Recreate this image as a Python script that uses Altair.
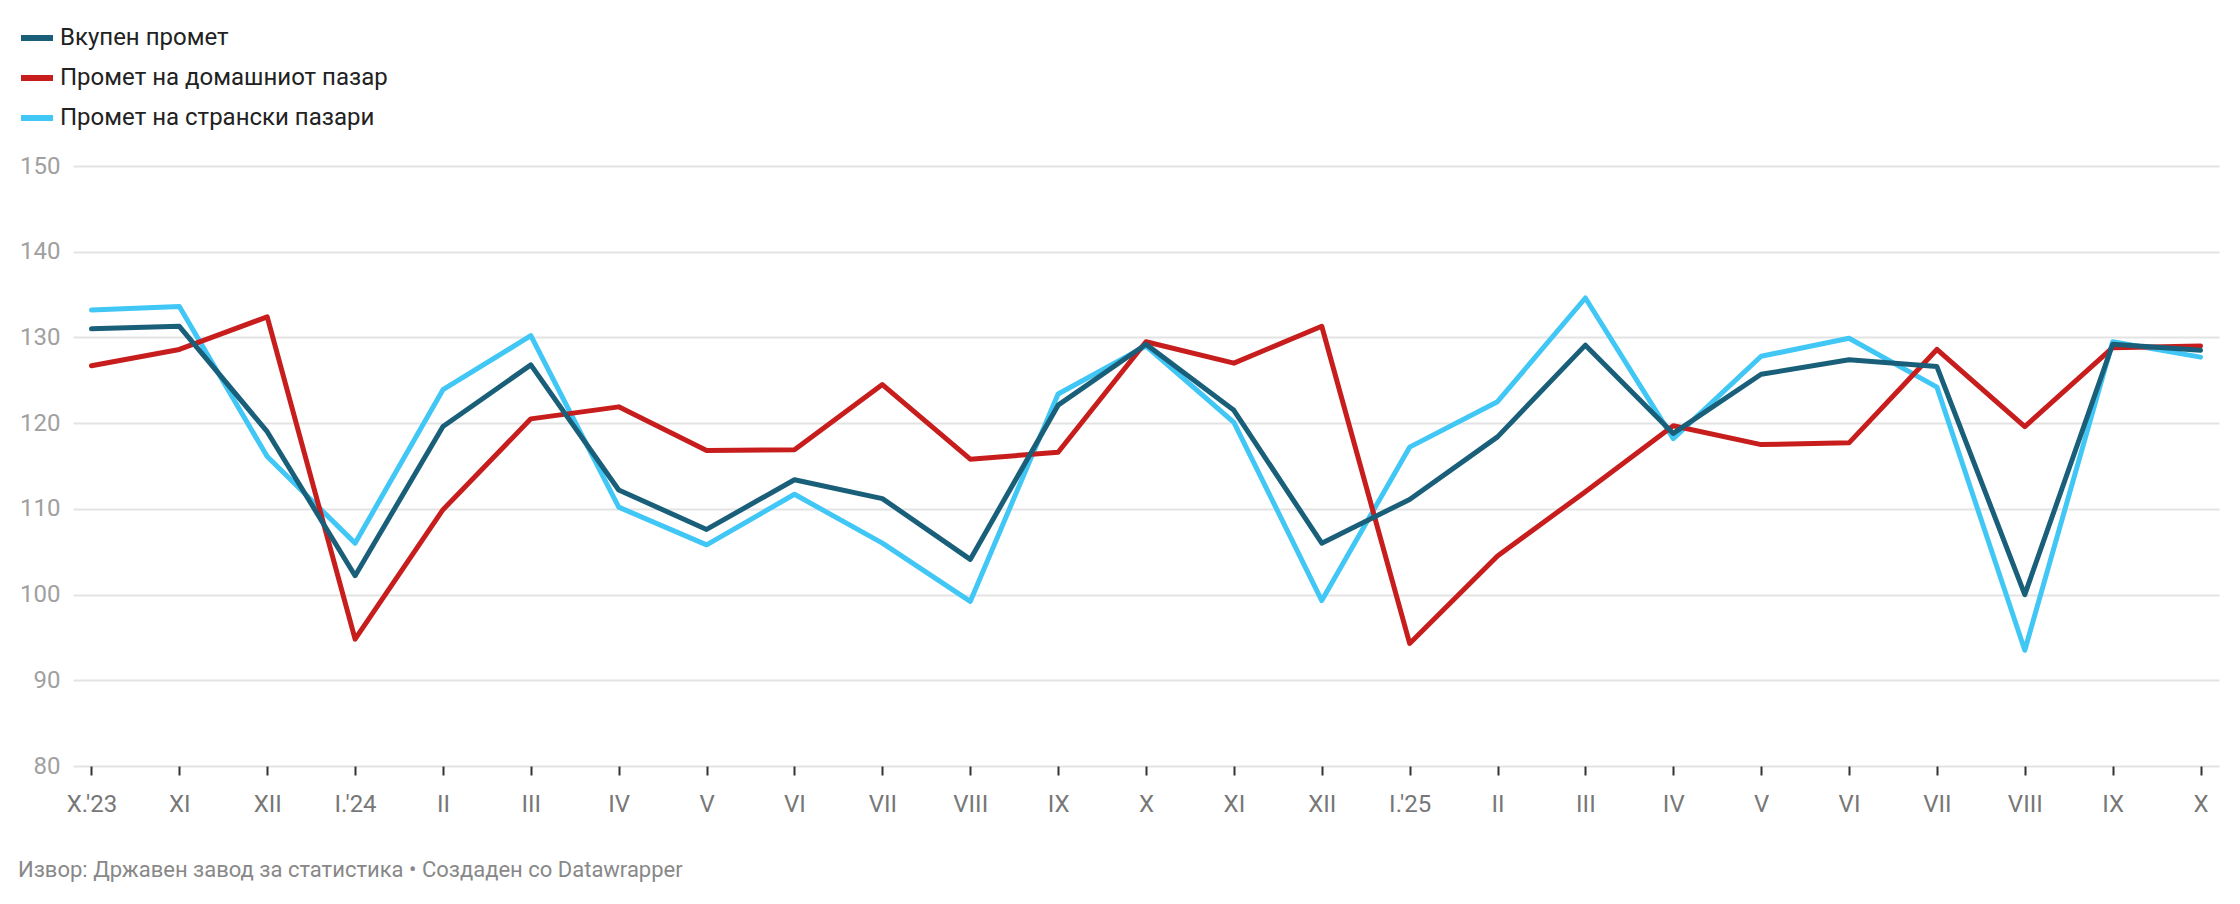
import altair as alt
import pandas as pd

months = ["X.'23", "XI", "XII", "I.'24", "II", "III", "IV", "V", "VI", "VII", "VIII", "IX",
          "X", "XI", "XII", "I.'25", "II", "III", "IV", "V", "VI", "VII", "VIII", "IX", "X"]
total = [131.0, 131.3, 119.0, 102.2, 119.6, 126.8, 112.2, 107.6, 113.4, 111.2, 104.1, 122.1,
         129.2, 121.5, 106.0, 111.1, 118.4, 129.1, 118.8, 125.7, 127.4, 126.6, 100.0, 129.2, 128.5]
domestic = [126.7, 128.6, 132.4, 94.8, 109.9, 120.5, 121.9, 116.8, 116.9, 124.5, 115.8, 116.6,
            129.5, 127.0, 131.3, 94.3, 104.5, 112.0, 119.7, 117.5, 117.7, 128.6, 119.6, 128.8, 129.0]
foreign = [133.2, 133.6, 116.1, 106.0, 123.9, 130.2, 110.2, 105.8, 111.7, 106.0, 99.2, 123.4,
           129.0, 120.1, 99.3, 117.2, 122.5, 134.6, 118.2, 127.8, 129.9, 124.2, 93.5, 129.5, 127.7]

series_names = ["Вкупен промет", "Промет на домашниот пазар", "Промет на странски пазари"]
series_colors = ["#1a5f7a", "#c71e1d", "#41c7f5"]

rows = []
# drawing order: foreign (bottom), domestic, total (top)
for name, vals in [(series_names[2], foreign), (series_names[1], domestic), (series_names[0], total)]:
    for i, v in enumerate(vals):
        rows.append({"idx": i, "value": v, "series": name})
df = pd.DataFrame(rows)

label_expr = "[" + ",".join('"%s"' % m for m in months) + "][datum.value]"

chart = alt.Chart(df).mark_line(strokeWidth=5, strokeJoin="round", strokeCap="round").encode(
    x=alt.X("idx:O", title=None,
            scale=alt.Scale(type="point", padding=0.21),
            axis=alt.Axis(labelExpr=label_expr, labelAngle=0, domain=False, grid=False,
                          ticks=True, tickSize=9, tickWidth=2, tickColor="#333333",
                          labelColor="#777777", labelFontSize=24, labelFont="Roboto",
                          labelPadding=17)),
    y=alt.Y("value:Q", title=None,
            scale=alt.Scale(domain=[80, 150], nice=False, zero=False),
            axis=alt.Axis(values=[80, 90, 100, 110, 120, 130, 140, 150], domain=False, ticks=False,
                          grid=True, gridColor="#e3e3e3", gridWidth=2,
                          labelColor="#a0a0a0", labelFontSize=24, labelFont="Roboto",
                          labelPadding=13, labelBaseline="middle")),
    color=alt.Color("series:N", title=None,
                    scale=alt.Scale(domain=series_names, range=series_colors),
                    legend=alt.Legend(orient="none", legendX=-55, legendY=-147, direction="vertical",
                                      symbolType="stroke", symbolSize=1024, symbolStrokeWidth=6,
                                      labelFontSize=24, labelFont="Roboto", labelColor="#222222",
                                      labelOffset=4, rowPadding=9, labelLimit=0)),
).properties(
    width=2146,
    height=600,
    padding={"left": 65, "top": 158, "right": 13, "bottom": 130},
    autosize=alt.AutoSizeParams(type="none"),
    title=alt.TitleParams(
        text="Извор: Државен завод за статистика • Создаден со Datawrapper",
        orient="bottom", anchor="start", frame="bounds",
        fontSize=22, font="Roboto", fontWeight="normal", color="#888888", offset=44),
).configure_view(stroke=None)

chart.save("out.html", embed_options={"renderer": "svg", "actions": False})
